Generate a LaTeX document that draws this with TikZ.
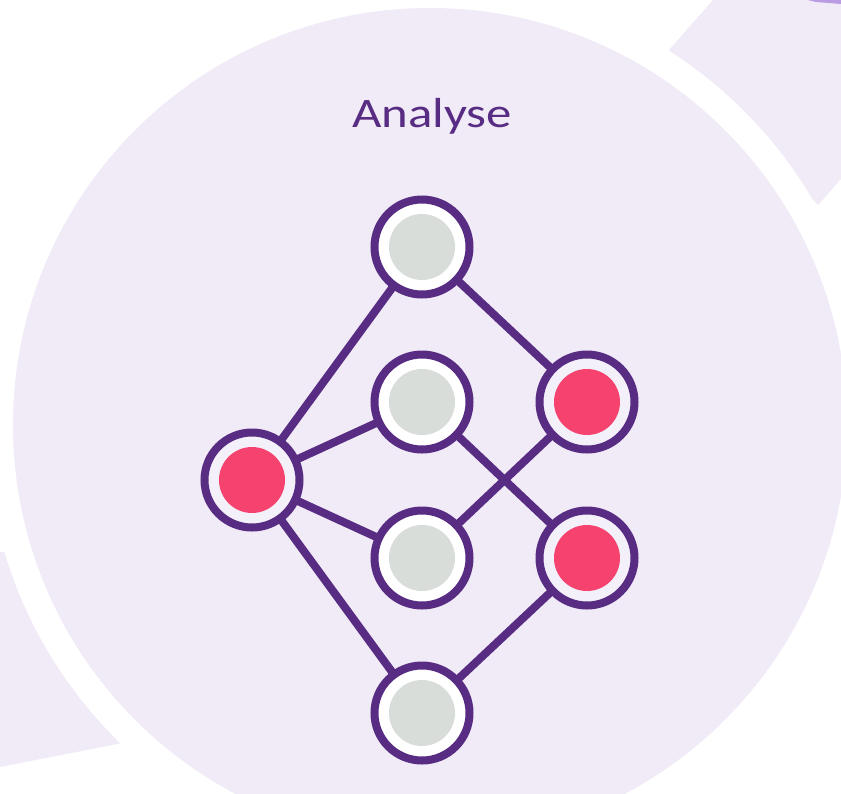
\documentclass[tikz,border=0pt]{standalone}
\usepackage{fontspec}
\usepackage{tikz}
\usetikzlibrary{positioning}
\usetikzlibrary{calc}
\newfontfamily\titlefont[FakeStretch=1.21]{Carlito}
\definecolor{lilac}{RGB}{241,235,248}
\definecolor{ink}{RGB}{88,44,130}
\definecolor{hit}{RGB}{245,66,111}
\definecolor{idle}{RGB}{217,221,218}
\definecolor{glow}{RGB}{186,156,226}

\begin{document}
\begin{tikzpicture}[x=1pt, y=-1pt,
        netnode/.style={circle, draw=ink, line width=8pt, minimum size=95pt, inner sep=0pt, outer sep=0pt},
        idlenode/.style={netnode, fill=white, path picture={\fill[idle] (path picture bounding box.center) circle (33pt);}},
        hitnode/.style={netnode, fill=lilac!75!white, path picture={\fill[hit] (path picture bounding box.center) circle (33pt);}},
        link/.style={draw=ink, line width=8pt}]
        \useasboundingbox (0,0) rectangle (841,793);
        \clip (0,0) rectangle (841,793);
        \fill[white] (0,0) rectangle (841,793);
        \fill[lilac] (713,0) -- (669,50) -- (818,205) -- (841,179) -- (841,0) -- cycle;
        \fill[lilac] (0,552) -- (6,552) -- (122,743) -- (0,767) -- cycle;
        \fill[glow] (808,0) -- (841,0) -- (841,4) -- (816,2) -- cycle;
        \fill[white] (430,425) circle (444pt);
        \fill[lilac] (430,425) circle (417pt);
        \node [text=ink, anchor=base] (title) at (432,127) {\titlefont\fontsize{42}{50}\selectfont Analyse};
        \node [hitnode] (src) at (252,480) {};
        \node [idlenode] (top) at (422,247) {};
        \node [idlenode] (midA) at ($(top)+(0,155)$) {};
        \node [idlenode] (midB) at ($(midA)+(0,156)$) {};
        \node [idlenode] (bot) at ($(midB)+(0,155)$) {};
        \node [hitnode] (hitA) at ($(midA)+(165,0)$) {};
        \node [hitnode] (hitB) at ($(midB)+(165,0)$) {};
        \foreach \a/\b in {src/top, src/midA, src/midB, src/bot, top/hitA, midA/hitB, midB/hitA, bot/hitB}
            \draw [link] (\a) -- (\b);
    \end{tikzpicture}
\end{document}
